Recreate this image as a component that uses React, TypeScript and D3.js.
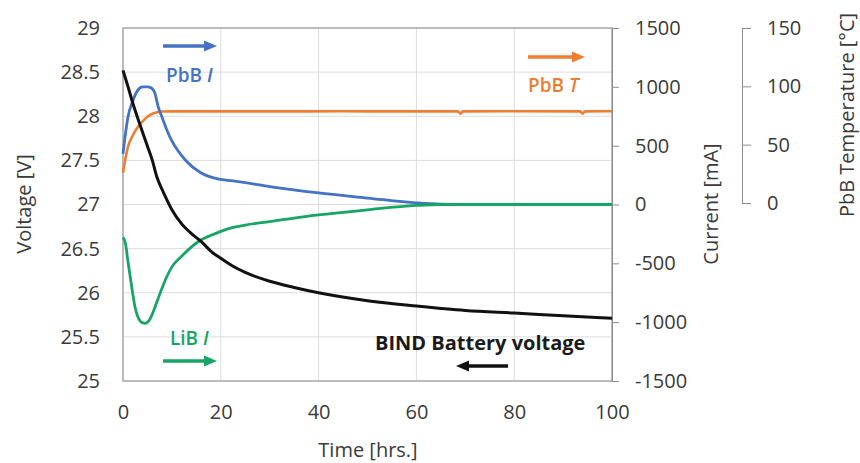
import React, { useEffect, useRef } from 'react';
import * as d3 from 'd3';

// BIND battery voltage [V]
const voltHours = [0, 1, 2, 3, 4, 5, 6, 7, 8, 9, 10, 12, 14, 16, 18, 20, 22.5, 25, 30, 35, 40, 50, 60, 70, 80, 90, 100];
const voltValues = [28.52, 28.34, 28.15, 27.98, 27.82, 27.66, 27.5, 27.3, 27.17, 27.05, 26.94, 26.78, 26.67, 26.58, 26.47, 26.39, 26.3, 26.23, 26.13, 26.06, 26.0, 25.91, 25.85, 25.8, 25.77, 25.74, 25.71];

// PbB current [mA]
const pbbHours = [0, 0.5, 1, 2, 3, 4, 5, 5.8, 6.5, 7.2, 8, 9.2, 10, 12.7, 16, 19.4, 22.5, 25, 30, 40, 50, 60, 65, 70, 80, 90, 100];
const pbbCurrent = [430, 600, 740, 880, 970, 1000, 1000, 990, 950, 830, 740, 610, 540, 380, 268, 217, 200, 185, 152, 98, 55, 13, 2, 0, 0, 0, 0];

// LiB current [mA]
const libHours = [0, 0.5, 1, 1.5, 2, 2.5, 3, 3.5, 4, 4.5, 5, 5.5, 6, 7, 8, 9, 10, 12, 14, 16, 18, 20, 22.5, 25, 30, 35, 40, 50, 60, 65, 70, 80, 90, 100];
const libCurrent = [-280, -330, -480, -620, -760, -880, -950, -990, -1005, -1010, -1000, -975, -930, -820, -710, -610, -530, -440, -360, -300, -262, -228, -195, -175, -145, -115, -89, -45, -8, 0, 0, 0, 0, 0];

// PbB temperature [°C]
const tempHours = [0, 0.5, 1, 2, 3, 4, 5, 6, 7, 8, 10, 15, 30, 45, 55, 68.5, 69, 69.5, 80, 93.5, 94, 94.5, 100];
const tempValues = [26, 38, 48, 58, 65, 70, 74, 76.5, 77.8, 78.4, 78.5, 78.5, 78.5, 78.6, 78.5, 78.5, 76.5, 78.5, 78.6, 78.5, 76.5, 78.5, 78.6];

const timeTicks = [0, 20, 40, 60, 80, 100];
const voltTicks = [25, 25.5, 26, 26.5, 27, 27.5, 28, 28.5, 29];
const currentTicks = [-1500, -1000, -500, 0, 500, 1000, 1500];
const tempTicks = [0, 50, 100, 150];

const W = 860;
const H = 463;
const FONT = "'Open Sans', sans-serif";
const TXT = '#3a3a3a';

export default function App() {
  const svgRef = useRef<SVGSVGElement>(null);

  useEffect(() => {
    const svg = d3.select(svgRef.current);
    svg.selectAll('*').remove();

    const left = 123, right = 612, top = 28, bottom = 381;
    const x = d3.scaleLinear().domain([0, 100]).range([left, right]);
    const yV = d3.scaleLinear().domain([25, 29]).range([bottom, top]);
    const yI = d3.scaleLinear().domain([-1500, 1500]).range([bottom, top]);
    const yT = d3.scaleLinear().domain([0, 150]).range([203, top]);
    const plain = (d) => String(d);

    // grid
    const grid = svg.append('g');
    grid.selectAll('.hg').data(voltTicks).join('line')
      .attr('x1', left).attr('x2', right)
      .attr('y1', (d) => yV(d)).attr('y2', (d) => yV(d))
      .attr('stroke', '#dcdcdc').attr('stroke-width', 1);
    grid.selectAll('.vg').data(timeTicks).join('line')
      .attr('x1', (d) => x(d)).attr('x2', (d) => x(d))
      .attr('y1', top).attr('y2', bottom)
      .attr('stroke', '#dcdcdc').attr('stroke-width', 1);
    svg.append('rect')
      .attr('x', left).attr('y', top).attr('width', right - left).attr('height', bottom - top)
      .attr('fill', 'none').attr('stroke', '#a0a0a0').attr('stroke-width', 1.3);

    // axes
    const styleAxis = (g) => {
      g.selectAll('text').attr('font-family', FONT).attr('font-size', 20).attr('fill', TXT);
      g.selectAll('line').attr('stroke', '#8c8c8c');
      g.select('.domain').attr('stroke', '#8c8c8c');
    };
    svg.append('g')
      .attr('transform', `translate(${left},0)`)
      .call(d3.axisLeft(yV).tickValues(voltTicks).tickSize(0).tickPadding(23).tickFormat(plain))
      .call((g) => g.select('.domain').remove())
      .call(styleAxis);
    svg.append('g')
      .attr('transform', `translate(0,${bottom})`)
      .call(d3.axisBottom(x).tickValues(timeTicks).tickSize(0).tickPadding(24).tickFormat(plain))
      .call((g) => g.select('.domain').remove())
      .call(styleAxis);
    svg.append('g')
      .attr('transform', `translate(${right},0)`)
      .call(d3.axisRight(yI).tickValues(currentTicks).tickSize(7).tickSizeOuter(0).tickPadding(16).tickFormat(plain))
      .call(styleAxis);
    svg.append('g')
      .attr('transform', `translate(742,0)`)
      .call(d3.axisRight(yT).tickValues(tempTicks).tickSize(9).tickSizeOuter(0).tickPadding(16).tickFormat(plain))
      .call(styleAxis);

    // series
    const lineOf = (xs, ys, yScale) =>
      d3.line<number>().x((d, i) => x(xs[i])).y((d) => yScale(d)).curve(d3.curveMonotoneX)(ys);

    const series = [
      { xs: tempHours, ys: tempValues, s: yT, c: '#ed7d31', w: 2.6 },
      { xs: pbbHours, ys: pbbCurrent, s: yI, c: '#4472c4', w: 2.8 },
      { xs: libHours, ys: libCurrent, s: yI, c: '#17a566', w: 2.8 },
      { xs: voltHours, ys: voltValues, s: yV, c: '#111111', w: 3 },
    ];
    series.forEach((d) => {
      svg.append('path')
        .attr('d', lineOf(d.xs, d.ys, d.s))
        .attr('fill', 'none')
        .attr('stroke', d.c)
        .attr('stroke-width', d.w)
        .attr('stroke-linejoin', 'round');
    });

    // annotations
    const arrow = (x1, x2, y, color) => {
      const dir = x2 > x1 ? 1 : -1;
      svg.append('line')
        .attr('x1', x1).attr('x2', x2 - dir * 10).attr('y1', y).attr('y2', y)
        .attr('stroke', color).attr('stroke-width', 3.5);
      svg.append('path')
        .attr('d', `M${x2},${y} L${x2 - dir * 13},${y - 5.5} L${x2 - dir * 13},${y + 5.5} Z`)
        .attr('fill', color);
    };
    const label = (xp, yp, main, ital, color, weight = 600, size = 19) => {
      const t = svg.append('text')
        .attr('x', xp).attr('y', yp)
        .attr('font-family', FONT).attr('font-size', size).attr('font-weight', weight)
        .attr('fill', color);
      t.append('tspan').text(main);
      if (ital) t.append('tspan').attr('font-style', 'italic').text(ital);
    };
    arrow(163, 217, 46, '#4472c4');
    label(166, 82, 'PbB ', 'I', '#4472c4');
    arrow(528, 585, 57, '#ed7d31');
    label(528, 92, 'PbB ', 'T', '#ed7d31');
    label(170, 345, 'LiB ', 'I', '#17a566');
    arrow(163, 217, 361, '#17a566');
    label(375, 350, 'BIND Battery voltage', '', '#1a1a1a', 700, 20);
    arrow(508, 456, 366, '#111111');

    // axis titles
    const title = (xp, yp, text, rot) => {
      svg.append('text')
        .attr('transform', `translate(${xp},${yp}) rotate(${rot})`)
        .attr('text-anchor', 'middle')
        .attr('font-family', FONT).attr('font-size', 20).attr('fill', TXT)
        .text(text);
    };
    title(31, 204, 'Voltage [V]', -90);
    title(718, 204, 'Current [mA]', -90);
    title(854, 115, 'PbB Temperature [°C]', -90);
    title(368, 457, 'Time [hrs.]', 0);
  }, []);

  return (
    <svg
      ref={svgRef}
      width={W}
      height={H}
      style={{ position: 'absolute', left: 0, top: 0, background: '#fff' }}
    />
  );
}
